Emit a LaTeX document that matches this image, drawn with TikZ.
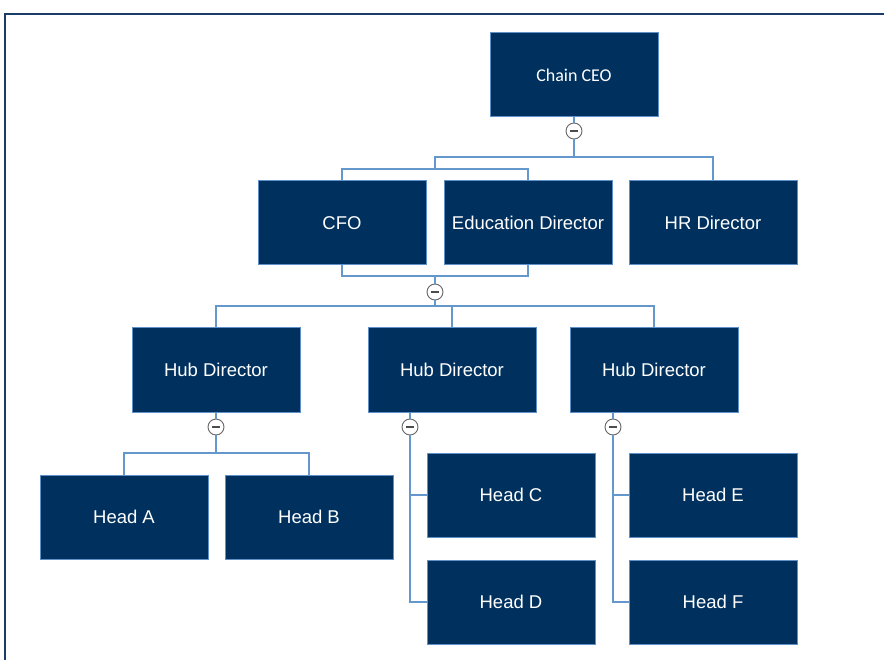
\documentclass[tikz,border=0pt]{standalone}
\usepackage{fontspec}
\setmainfont{Liberation Sans}
\newfontfamily\ceofont{Carlito}
\usetikzlibrary{calc}
\definecolor{boxnavy}{RGB}{0,49,94}
\definecolor{boxedge}{RGB}{95,145,200}
\definecolor{linkblue}{RGB}{100,152,205}
\definecolor{framenavy}{RGB}{25,60,105}
\newcommand*{\bw }{168pt}
\newcommand*{\bh }{84pt}

\begin{document}
\begin{tikzpicture}[x=1pt,y=-1pt,font=\fontsize{18.5}{22}\selectfont,
    box/.style={draw=boxedge, line width=1pt, fill=boxnavy, text=white, minimum width=\bw, minimum height=\bh, inner sep=0pt},
    link/.style={draw=linkblue, line width=1.3pt},
    toggle/.style={circle, draw=black!60, fill=white, line width=0.9pt, minimum size=16pt, inner sep=0pt,
        path picture={\draw[black!70, line width=1.1pt] ($(path picture bounding box.center)+(-4pt,0)$) -- ++(8pt,0);}}]
    \useasboundingbox (0,0) rectangle (884,660);
    \draw [framenavy, line width=2pt] (5,660) -- (5,14) -- (884,14);
        % top levels
        \node [box, font=\ceofont\fontsize{18}{22}\selectfont] (ceo) at (574,75) {Chain CEO};
        \node [toggle] (ceomin) at (574,131) {};
        \node [box] (cfo) at (342,223) {CFO};
        \node [box] (edu) at (528,223) {Education Director};
        \node [box] (hr)  at (713,223) {HR Director};
        \node [toggle] (execmin) at (435,292) {};
        % hubs
        \node [box] (hubA) at (216,370) {Hub Director};
        \node [box] (hubB) at (452,370) {Hub Director};
        \node [box] (hubC) at (654,370) {Hub Director};
        \node [toggle] (minA) at (216,427) {};
        \node [toggle] (minB) at (410,427) {};
        \node [toggle] (minC) at (613,427) {};
        % heads
        \node [box] (headA) at (124,517) {Head A};
        \node [box] (headB) at (309,517) {Head B};
        \node [box] (headC) at (511,495) {Head C};
        \node [box] (headD) at (511,602) {Head D};
        \node [box] (headE) at (713,495) {Head E};
        \node [box] (headF) at (713,602) {Head F};
        % buses
        \coordinate (ceobus)  at (574,157);
        \coordinate (pairtop) at (435,169);
        \coordinate (pairbot) at (435,276);
        \coordinate (hubbus)  at (435,306);
        \coordinate (busA)    at (216,453);
        % connectors
        \draw [link] (ceo) -- (ceomin) -- (ceobus);
        \draw [link] (ceobus) -| (hr);
        \draw [link] (ceobus) -| (pairtop);
        \draw [link] (cfo.north) |- (pairtop) -| (edu.north);
        \draw [link] (cfo.south) |- (pairbot) -| (edu.south);
        \draw [link] (pairbot) -- (execmin) -- (hubbus);
        \draw [link] (hubbus) -| (hubA);
        \draw [link] (hubbus) -| (hubB);
        \draw [link] (hubbus) -| (hubC);
        \draw [link] (hubA) -- (minA) -- (busA);
        \draw [link] (busA) -| (headA);
        \draw [link] (busA) -| (headB);
        \draw [link] (hubB.south -| minB) -- (minB);
        \draw [link] (minB) |- (headC.west);
        \draw [link] (minB) |- (headD.west);
        \draw [link] (hubC.south -| minC) -- (minC);
        \draw [link] (minC) |- (headE.west);
        \draw [link] (minC) |- (headF.west);
        %\draw [help lines] (0,0) grid[step=50] (884,660);
    \end{tikzpicture}
\end{document}
